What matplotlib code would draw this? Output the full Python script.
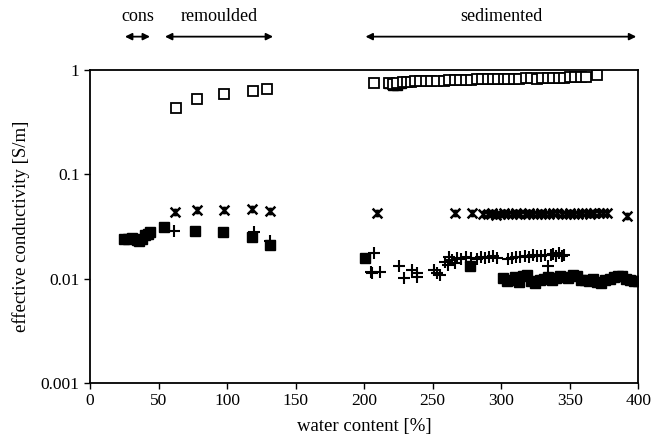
import numpy as np
import matplotlib
matplotlib.use('Agg')
import matplotlib.pyplot as plt
import matplotlib.transforms as mtransforms
from matplotlib.path import Path

plt.rcParams['font.family'] = ['Liberation Serif', 'DejaVu Serif']

# open squares
sqOpenX = [62.8, 78, 98, 119, 129,
           207.5, 218, 221, 224, 228, 231, 234, 237, 241, 245, 249, 253, 258, 262, 266,
           270, 274, 278, 282, 286, 290, 294, 298, 302, 305, 309, 313, 318, 322, 326,
           330, 334, 338, 342, 346, 350, 354, 358, 362, 370]
sqOpenY = [0.435, 0.52, 0.585, 0.63, 0.65,
           0.755, 0.74, 0.73, 0.75, 0.76, 0.77, 0.77, 0.78, 0.78, 0.78, 0.79, 0.79, 0.79, 0.80, 0.80,
           0.80, 0.80, 0.80, 0.81, 0.81, 0.81, 0.81, 0.82, 0.82, 0.81, 0.82, 0.82, 0.83, 0.83, 0.82,
           0.83, 0.84, 0.84, 0.83, 0.84, 0.85, 0.85, 0.85, 0.85, 0.895]

# filled squares
sqFillX = [25, 28, 31, 34, 36, 38, 40, 42, 44,
           54, 76.6, 97, 118, 131.5,
           218, 221, 224, 227,
           200.7, 277,
           301, 304, 307, 310, 313, 316, 319, 322, 325, 328, 331, 334, 337, 340, 343, 346,
           349, 352, 355, 358, 361, 364, 367, 370, 373, 376, 379, 382, 385, 388, 391, 394, 397, 400]
sqFillY = [0.024, 0.024, 0.0245, 0.0235, 0.023, 0.024, 0.026, 0.027, 0.028,
           0.0315, 0.0288, 0.028, 0.0252, 0.021,
           0.74, 0.71, 0.72, 0.74,
           0.0156, 0.0131,
           0.0101, 0.0094, 0.0098, 0.0103, 0.0093, 0.0105, 0.0108, 0.0095, 0.0091, 0.0097, 0.0100,
           0.0104, 0.0098, 0.0102, 0.0106, 0.0104, 0.0101, 0.0108, 0.0105, 0.0098, 0.0096, 0.0094,
           0.0099, 0.0093, 0.0091, 0.0096, 0.0100, 0.0103, 0.0107, 0.0105, 0.0099, 0.0097, 0.0095, 0.0094]

# plus
plusX = [61.5, 120, 131.6,
         207.5, 204.9, 206, 211.7, 225.5, 229.2, 235, 238.4, 238.9, 250.6, 255, 253,
         259, 261, 262, 264, 266, 268, 271, 274, 278, 282, 285, 288, 291, 294, 297,
         305, 308, 311, 314, 317, 320, 323, 326, 329, 332, 334, 336, 338, 340, 342, 344, 346]
plusY = [0.0286, 0.028, 0.023,
         0.0175, 0.0116, 0.0113, 0.0116, 0.0132, 0.0102, 0.0122, 0.0113, 0.0104, 0.0121, 0.0108, 0.0114,
         0.0145, 0.0135, 0.016, 0.0152, 0.014, 0.0158, 0.0155, 0.016, 0.0158, 0.0155, 0.0162, 0.0156,
         0.016, 0.0165, 0.0158,
         0.0155, 0.0158, 0.0162, 0.016, 0.0165, 0.0162, 0.0168, 0.0166, 0.0164, 0.017, 0.0131,
         0.0168, 0.0172, 0.0166, 0.0175, 0.0165, 0.017]

# stars
starX = [62, 78.3, 98, 118.5, 131.4,
         209.7, 266.4, 279,
         287, 290, 293, 296, 299, 302, 305, 308, 311, 314, 317, 320, 323, 326, 329, 332,
         335, 338, 341, 344, 347, 350, 353, 356, 359, 362, 365, 368, 371, 374, 377, 391.7]
starY = [0.0433, 0.0455, 0.045, 0.0465, 0.044,
         0.0423, 0.0423, 0.0423,
         0.0415, 0.042, 0.0425, 0.041, 0.0418, 0.0422, 0.0412, 0.042, 0.0426, 0.0415, 0.0419,
         0.0423, 0.0414, 0.042, 0.0425, 0.0418, 0.0412, 0.0421, 0.0427, 0.0416, 0.042, 0.0424,
         0.0418, 0.0413, 0.0422, 0.0426, 0.0419, 0.0423, 0.0428, 0.0421, 0.0425, 0.0398]

regions = ['cons', 'remoulded', 'sedimented']
regionStart = [25.5, 54.7, 201]
regionEnd = [43.8, 133.6, 398.5]

# excel style star: an x with a short vertical bar
starMarker = Path([(-1, -1), (1, 1), (-1, 1), (1, -1), (0, -0.8), (0, 0.8)],
				  [Path.MOVETO, Path.LINETO, Path.MOVETO, Path.LINETO, Path.MOVETO, Path.LINETO])

fig = plt.figure(figsize=(6.52, 4.42), dpi=100)
ax = fig.add_axes([0.138, 0.1335, 0.841, 0.7085])

ax.plot(sqFillX, sqFillY, 's', color='black', ms=6.5, ls='none')
ax.plot(plusX, plusY, '+', color='black', ms=8, mew=1.5, ls='none')
ax.plot(starX, starY, marker=starMarker, color='black', ms=7, mew=1.8, ls='none')
ax.plot(sqOpenX, sqOpenY, 's', mfc='white', mec='black', mew=1.3, ms=6.5, ls='none')

ax.set_yscale('log')
ax.set_xlim(0, 400)
ax.set_ylim(0.001, 1)
ax.set_xticks(np.arange(0, 401, 50))
ax.set_yticks([0.001, 0.01, 0.1, 1])
ax.set_yticklabels(['0.001', '0.01', '0.1', '1'])
ax.yaxis.set_minor_locator(matplotlib.ticker.NullLocator())
ax.tick_params(axis='both', direction='out', length=4, width=1, labelsize=12.5, colors='black')
for sp in ax.spines.values():
	sp.set_linewidth(1.3)

ax.set_xlabel('water content [%]', fontsize=13.5, labelpad=6)
ax.set_ylabel('effective conductivity [S/m]', fontsize=13.5, labelpad=8)

trans = mtransforms.blended_transform_factory(ax.transData, ax.transAxes)
for ii in range(len(regions)):
	ax.annotate('', xy=(regionStart[ii], 1.106), xytext=(regionEnd[ii], 1.106),
				xycoords=trans, textcoords=trans, annotation_clip=False,
				arrowprops=dict(arrowstyle='<|-|>', color='black', lw=1.3,
								mutation_scale=10, shrinkA=0, shrinkB=0))
	ax.text((regionStart[ii] + regionEnd[ii]) / 2.0, 1.17, regions[ii], transform=trans,
			ha='center', va='center', fontsize=13)

fig.savefig('out.png', dpi=100)
